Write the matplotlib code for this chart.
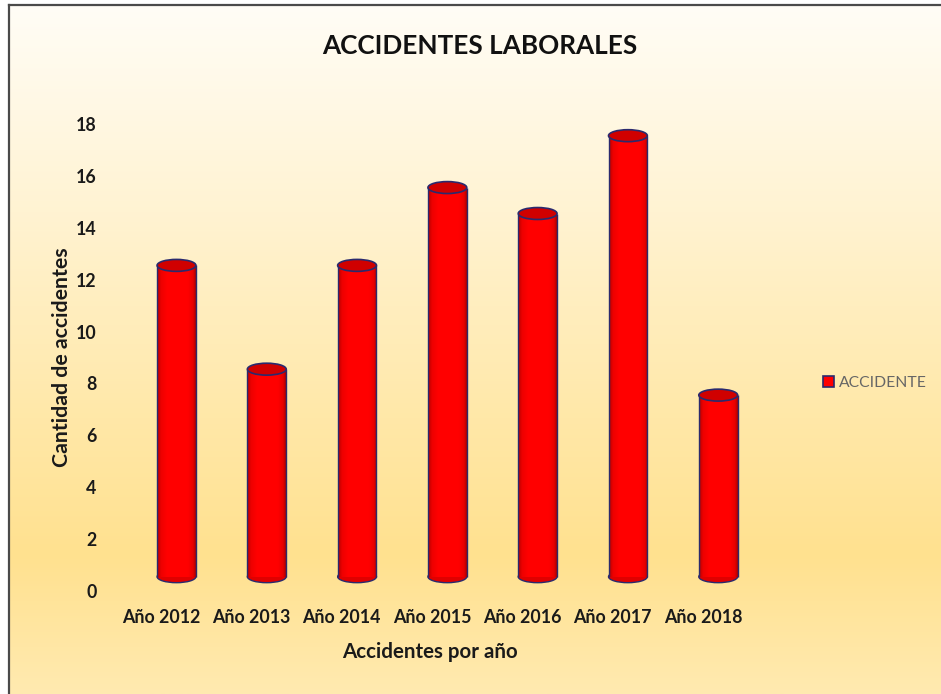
import matplotlib.pyplot as plt
import numpy as np
from matplotlib.colors import LinearSegmentedColormap
from matplotlib.patches import Ellipse, Patch

# data
years = ["Año 2012", "Año 2013", "Año 2014", "Año 2015", "Año 2016", "Año 2017", "Año 2018"]
accidents = [12, 8, 12, 15, 14, 17, 7]
y_ticks = [0, 2, 4, 6, 8, 10, 12, 14, 16, 18]

plt.rcParams["font.family"] = ["Lato", "DejaVu Sans"]

W, H = 941, 694
fig = plt.figure(figsize=(W / 100, H / 100), dpi=100)
fig.patch.set_facecolor("white")

# background panel with vertical gradient and frame on left/top
bg = fig.add_axes([9 / W, 0, 1 - 9 / W, 1 - 5 / H])
bg_cmap = LinearSegmentedColormap.from_list(
    "bg",
    [(0.0, "#FFFDF6"), (0.3, "#FFF3D2"), (0.6, "#FFE8A8"),
     (0.8, "#FFE18F"), (1.0, "#FFEAB0")],
)
bg.imshow(np.linspace(0, 1, 256).reshape(-1, 1), cmap=bg_cmap, aspect="auto",
          extent=(0, 1, 0, 1))
bg.set_xticks([])
bg.set_yticks([])
for side in ["right", "bottom"]:
    bg.spines[side].set_visible(False)
for side in ["left", "top"]:
    bg.spines[side].set_color("#4a4a4a")
    bg.spines[side].set_linewidth(1.6)

ax = fig.add_axes([116 / W, 1 - 591 / H, 632 / W, 467 / H])
ax.set_facecolor("none")

x = np.arange(len(years))
shift = 0.17      # 3D look: cylinders sit a bit right of the labels
base = 0.55
width = 0.43
ell_h = 0.46
navy = "#2a2a6e"

cyl_cmap = LinearSegmentedColormap.from_list(
    "cyl",
    [(0.0, "#b80000"), (0.1, "#ee0000"), (0.25, "#ff0000"), (0.8, "#ff0000"),
     (0.93, "#e80000"), (1.0, "#b00000")],
)

cx = x + shift
# bottom caps
for c in cx:
    ax.add_patch(Ellipse((c, base), width, ell_h, facecolor="#e00000",
                         edgecolor=navy, lw=1.0, zorder=2))

bars = ax.bar(cx, accidents, bottom=base, width=width, color="#ff0000", lw=0, zorder=3)
for b in bars:
    im = ax.imshow(np.linspace(0, 1, 64).reshape(1, -1), cmap=cyl_cmap, aspect="auto",
                   extent=(b.get_x(), b.get_x() + b.get_width(),
                           b.get_y(), b.get_y() + b.get_height()), zorder=3)
    im.set_clip_path(b)

tops = base + np.array(accidents)
ax.vlines(cx - width / 2, base, tops, color=navy, lw=1.0, zorder=4)
ax.vlines(cx + width / 2, base, tops, color=navy, lw=1.0, zorder=4)
for c, t in zip(cx, tops):
    ax.add_patch(Ellipse((c, t), width, ell_h, facecolor="#d00000",
                         edgecolor=navy, lw=1.2, zorder=5))

ax.set_xlim(-0.5, len(years) - 0.5)
ax.set_ylim(0, 18)
ax.set_xticks(x)
ax.set_xticklabels(years)
ax.set_yticks(y_ticks)
ax.tick_params(length=0, labelsize=12.8, colors="#1a1a1a")
ax.tick_params(axis="y", pad=14)
ax.tick_params(axis="x", pad=13)
for lab in ax.get_xticklabels() + ax.get_yticklabels():
    lab.set_fontweight("bold")
for s in ax.spines.values():
    s.set_visible(False)

fig.text(480 / W, 1 - 46 / H, "ACCIDENTES LABORALES", ha="center", va="center",
         fontsize=18.8, fontweight="bold", color="#111111")
fig.text(62 / W, 1 - 357 / H, "Cantidad de accidentes", rotation=90, ha="center",
         va="center", fontsize=15.3, fontweight="bold", color="#1a1a1a")
fig.text(430 / W, 1 - 652 / H, "Accidentes por año", ha="center", va="center",
         fontsize=14.8, fontweight="bold", color="#1a1a1a")

fig.legend(handles=[Patch(facecolor="#ff0000", edgecolor=navy, lw=1.2, label="ACCIDENTE")],
           loc="center left", bbox_to_anchor=(809 / W, 1 - 383 / H), frameon=False,
           handlelength=0.7, handleheight=0.7, handletextpad=0.3, fontsize=11.3,
           labelcolor="#666666")

fig.savefig("out.png", dpi=100)
